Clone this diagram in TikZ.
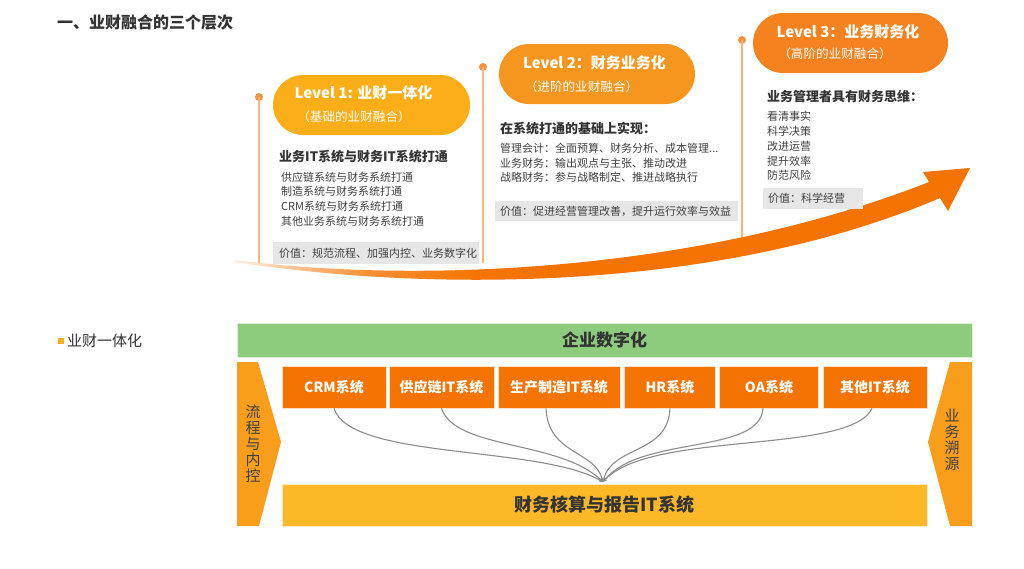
\documentclass[tikz,border=0pt]{standalone}
\usepackage{fontspec}
\setmainfont{Noto Sans CJK SC}
\usetikzlibrary{arrows.meta}
\definecolor{lvA}{HTML}{FBAE17}
\definecolor{lvB}{HTML}{F7961E}
\definecolor{lvC}{HTML}{F5821F}
\definecolor{arr}{HTML}{F57300}
\definecolor{sysc}{HTML}{F57300}
\definecolor{finc}{HTML}{FDB827}
\definecolor{grn}{HTML}{8DCB7D}
\definecolor{side}{HTML}{F89E1B}
\definecolor{vline}{HTML}{F9B67C}
\definecolor{dotc}{HTML}{F7923A}
\definecolor{txt}{HTML}{333333}
\definecolor{bodyc}{HTML}{404040}
\definecolor{valbg}{HTML}{E6E6E6}
\definecolor{conn}{HTML}{8C8C8C}
\pgfdeclarehorizontalshading{arrshade}{100bp}{color(0bp)=(arr!12); color(25bp)=(arr!12); color(34bp)=(arr!80); color(42bp)=(arr); color(100bp)=(arr)}
\begin{document}
\begin{tikzpicture}[x=1pt,y=-1pt,
  pill/.style={rounded corners=30pt, minimum height=60pt, inner sep=0pt},
  pilltitle/.style={inner sep=0pt, text=white, font=\bfseries\fontsize{15}{18}\selectfont},
  pillsub/.style={inner sep=0pt, text=white, font=\fontsize{12.6}{14}\selectfont},
  tx/.style={inner sep=0pt, anchor=west, text=bodyc, font=\fontsize{11}{13}\selectfont},
  hd/.style={inner sep=0pt, anchor=west, text=txt, font=\bfseries\fontsize{13}{15}\selectfont},
  valbox/.style={fill=valbg, inner sep=0pt, minimum height=22pt},
  vln/.style={draw=vline, line width=1.4pt},
  dt/.style={circle, fill=dotc, inner sep=0pt, minimum size=8pt},
  sysbox/.style={fill=sysc, draw=white!80!sysc, line width=0.6pt, text=white, inner sep=0pt, minimum height=42pt, font=\bfseries\fontsize{14}{16}\selectfont},
  vtext/.style={inner sep=0pt, text=bodyc, align=center, font=\fontsize{15}{16}\selectfont},
  cn/.style={draw=conn, line width=1.1pt, -{Stealth[length=4pt,width=3.5pt]}}
]
\useasboundingbox (0,0) rectangle (1024,568);
\fill[white] (0,0) rectangle (1024,568);

% title
\node[inner sep=0pt, anchor=west, text=txt, font=\bfseries\fontsize{16}{18}\selectfont] (title) at (57,22) {一、业财融合的三个层次};

% vertical guide lines with dots
\node[dt] (d1) at (259,97) {};
\node[dt] (d2) at (483,67) {};
\node[dt] (d3) at (742,40) {};
\coordinate (e1) at (259,263);
\coordinate (e2) at (483,263);
\coordinate (e3) at (742,250);
\draw[vln] (d1.center) -- (e1);
\draw[vln] (d2.center) -- (e2);
\draw[vln] (d3.center) -- (e3);

% big arrow
\shade[shading=arrshade]
  (235,260) .. controls (420,284) and (700,272) .. (929,182)
  -- (923,172) -- (970,168) -- (948,211) -- (940,198)
  .. controls (720,292) and (430,292) .. (235,262) -- cycle;

% Level pills
\node[pill, fill=lvA, minimum width=197pt] (p1) at (371.5,105) {};
\node[pilltitle] (p1t) at (363.5,93) {Level 1: 业财一体化};
\node[pillsub] (p1s) at (354,117) {（基础的业财融合）};
\node[pill, fill=lvB, minimum width=196pt] (p2) at (597,74) {};
\node[pilltitle] (p2t) at (594.5,63) {Level 2：财务业务化};
\node[pillsub] (p2s) at (581.5,87) {（进阶的业财融合）};
\node[pill, fill=lvC, minimum width=195pt] (p3) at (850.5,43) {};
\node[pilltitle] (p3t) at (848,32) {Level 3：业务财务化};
\node[pillsub] (p3s) at (835,54) {（高阶的业财融合）};

% Level 1 texts
\node[hd] (h1) at (279,157) {业务IT系统与财务IT系统打通};
\node[tx] (a1) at (281,177) {供应链系统与财务系统打通};
\node[tx] (a2) at (281,191) {制造系统与财务系统打通};
\node[tx] (a3) at (281,206) {CRM系统与财务系统打通};
\node[tx] (a4) at (281,221) {其他业务系统与财务系统打通};
\node[valbox, minimum width=206pt] (v1) at (376,253) {};
\node[tx] (v1t) at ([xshift=6pt]v1.west) {价值：规范流程、加强内控、业务数字化};

% Level 2 texts
\node[hd] (h2) at (500,129) {在系统打通的基础上实现：};
\node[tx] (b1) at (500,148) {管理会计：全面预算、财务分析、成本管理...};
\node[tx] (b2) at (500,163) {业务财务：输出观点与主张、推动改进};
\node[tx] (b3) at (500,177) {战略财务：参与战略制定、推进战略执行};
\node[valbox, minimum width=243pt, minimum height=20pt] (v2) at (616.5,211) {};
\node[tx] (v2t) at ([xshift=5pt]v2.west) {价值：促进经营管理改善，提升运行效率与效益};

% Level 3 texts
\node[hd] (h3) at (767,97) {业务管理者具有财务思维：};
\node[tx] (c1) at (767,116) {看清事实};
\node[tx] (c2) at (767,131) {科学决策};
\node[tx] (c3) at (767,146) {改进运营};
\node[tx] (c4) at (767,161) {提升效率};
\node[tx] (c5) at (767,175) {防范风险};
\node[valbox, minimum width=100pt, minimum height=21pt] (v3) at (813,198) {};
\node[tx] (v3t) at ([xshift=5pt]v3.west) {价值：科学经营};

% legend
\fill[lvA] (58,338) rectangle (64,344);
\node[inner sep=0pt, anchor=west, text=txt, font=\fontsize{15}{17}\selectfont] (leg) at (67,341) {业财一体化};

% green bar
\node[fill=grn, draw=white!70!grn, line width=0.6pt, minimum width=735pt, minimum height=34pt, inner sep=0pt, text=txt, font=\bfseries\fontsize{17}{19}\selectfont] (ent) at (604.5,340) {企业数字化};

% side pentagons
\fill[side] (237,362) -- (258,362) -- (281,442) -- (259,526) -- (237,526) -- cycle;
\node[vtext] (lside) at (253,444) {流\\程\\与\\内\\控};
\fill[side] (950,362) -- (972,362) -- (972,526) -- (950,526) -- (928,442) -- cycle;
\node[vtext] (rside) at (952,440) {业\\务\\溯\\源};

% system boxes
\node[sysbox, minimum width=104pt] (crm) at (334,387) {CRM系统};
\node[sysbox, minimum width=105pt] (scm) at (441.5,387) {供应链IT系统};
\node[sysbox, minimum width=122pt] (mfg) at (559,387) {生产制造IT系统};
\node[sysbox, minimum width=91pt] (hr) at (670,387) {HR系统};
\node[sysbox, minimum width=99pt] (oa) at (769,387) {OA系统};
\node[sysbox, minimum width=104pt] (oth) at (875,387) {其他IT系统};

% finance box
\node[fill=finc, draw=white!70!finc, line width=0.6pt, minimum width=645pt, minimum height=42pt, inner sep=0pt, text=txt, font=\bfseries\fontsize{18}{20}\selectfont] (fin) at (604.5,505) {财务核算与报告IT系统};
\coordinate (hub) at (603,482);

% connectors
\draw[cn] (crm.south) .. controls (350,460) and (540,445) .. (hub);
\draw[cn] (scm.south) .. controls (455,450) and (560,440) .. (hub);
\draw[cn] ([xshift=-13pt]mfg.south) .. controls (548,455) and (595,450) .. (hub);
\draw[cn] (hr.south) .. controls (668,455) and (612,445) .. (hub);
\draw[cn] ([xshift=-6pt]oa.south) .. controls (760,455) and (640,435) .. (hub);
\draw[cn] ([xshift=-3pt]oth.south) .. controls (850,455) and (650,430) .. (hub);
\end{tikzpicture}
\end{document}
